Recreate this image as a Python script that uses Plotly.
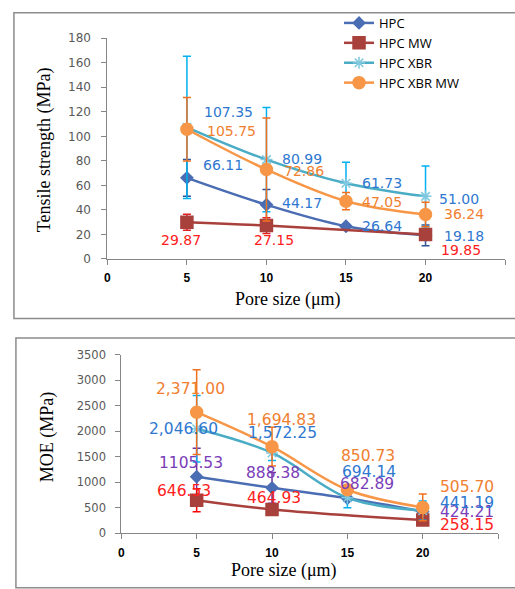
import plotly.graph_objects as go

pore = [5, 10, 15, 20]
series = ["HPC", "HPC MW", "HPC XBR", "HPC XBR MW"]

# Tensile strength (MPa)
ts_hpc = [66.11, 44.17, 26.64, 19.18]
ts_mw = [29.87, 27.15, None, 19.85]
ts_xbr = [107.35, 80.99, 61.73, 51.00]
ts_xbrmw = [105.75, 72.86, 47.05, 36.24]
ts_err_hpc = [15, 12.4, 2, 8.5]
ts_err_mw = [6.5, 6.4, 0, 3]
ts_err_xbr = [58, 42.6, 17, 24.7]
ts_err_xbrmw = [26, 42, 7, 10]

# MOE (MPa)
moe_hpc = [1105.53, 888.38, 682.89, 424.21]
moe_mw = [646.53, 464.93, None, 258.15]
moe_xbr = [2046.60, 1572.25, 694.14, 441.19]
moe_xbrmw = [2371.00, 1694.83, 850.73, 505.70]
moe_err_hpc = [560, 300, 40, 30]
moe_err_mw = [226, 40, 0, 20]
moe_err_xbr = [650, 150, 195, 190]
moe_err_xbrmw = [830, 380, 80, 260]

ts_labels = ["66.11 44.17 26.64 19.18", "29.87 27.15 - 19.85",
             "107.35 80.99 61.73 51.00", "105.75 72.86 47.05 36.24"]
moe_labels = ["1105.53 888.38 682.89 424.21", "646.53 464.93 - 258.15",
              "2,046.60 1,572.25 694.14 441.19", "2,371.00 1,694.83 850.73 505.70"]

W, H = 515, 589
line_cols = ["#4A6DB3", "#A8403C", "#4BACC6", "#F79646"]
symbols = ["diamond", "square", "asterisk-open", "circle"]
msizes = [9, 12, 10, 12]
mk_cols = ["#4A6DB3", "#A8403C", "#7FC8E0", "#F79646"]
ts_err_cols = ["#2F5597", "#E02020", "#00B0F0", "#F07020"]
moe_err_cols = ["#7030A0", "#FF0000", "#00B0F0", "#F07020"]
ts_lab_cols = ["#2E78D0", "#FF2020", "#2E78D0", "#F08030"]
moe_lab_cols = ["#7A3DB8", "#FF2020", "#2E78D0", "#F08030"]

# label pixel offsets (xshift, yshift, anchor)
ts_off = [
    [(14, 13, "left"), (14, 2, "left"), (14, 0, "left"), (16, -1, "left")],
    [(-6, -18, "center"), (-14, -14, "left"), None, (13, -15, "left")],
    [(15, 15, "left"), (14, 1, "left"), (14, 0, "left"), (11, -3, "left")],
    [(18, -2, "left"), (16, -1, "left"), (14, -1, "left"), (16, 0, "left")],
]
moe_off = [
    [(-6, 14, "center"), (1, 15, "center"), (20, 14, "center"), (15, 0, "left")],
    [(-13, 9, "center"), (2, 11, "center"), None, (15, -4.5, "left")],
    [(-13, 0, "center"), (10, 20, "center"), (22, 26, "center"), (15, 8, "left")],
    [(-6, 23, "center"), (9, 27, "center"), (21, 34, "center"), (15, 20, "left")],
]

fig = go.Figure()

ts_vals = [ts_hpc, ts_mw, ts_xbr, ts_xbrmw]
ts_errs = [ts_err_hpc, ts_err_mw, ts_err_xbr, ts_err_xbrmw]
moe_vals = [moe_hpc, moe_mw, moe_xbr, moe_xbrmw]
moe_errs = [moe_err_hpc, moe_err_mw, moe_err_xbr, moe_err_xbrmw]

for i, name in enumerate(series):
    fig.add_trace(go.Scatter(
        x=pore, y=ts_vals[i], name=name, mode="lines+markers",
        connectgaps=True, line=dict(color=line_cols[i], width=2.5, shape="spline"),
        marker=dict(symbol=symbols[i], size=msizes[i], color=mk_cols[i],
                    line=dict(color=mk_cols[i], width=1.5)),
        error_y=dict(type="data", array=ts_errs[i], color=ts_err_cols[i],
                     thickness=1.5, width=4),
        xaxis="x", yaxis="y", showlegend=True))
for i, name in enumerate(series):
    fig.add_trace(go.Scatter(
        x=pore, y=moe_vals[i], name=name, mode="lines+markers",
        connectgaps=True, line=dict(color=line_cols[i], width=2.5, shape="spline"),
        marker=dict(symbol=symbols[i], size=msizes[i], color=mk_cols[i],
                    line=dict(color=mk_cols[i], width=1.5)),
        error_y=dict(type="data", array=moe_errs[i], color=moe_err_cols[i],
                     thickness=1.5, width=4),
        xaxis="x2", yaxis="y2", showlegend=False))

anns = []
for i in range(4):
    labs = ts_labels[i].split(" ")
    for j, x in enumerate(pore):
        v = ts_vals[i][j]
        if v is None or ts_off[i][j] is None:
            continue
        dx, dy, anc = ts_off[i][j]
        anns.append(dict(x=x, y=v, xref="x", yref="y", text=labs[j], showarrow=False,
                         xanchor=anc, yanchor="middle", xshift=dx, yshift=dy,
                         font=dict(family="DejaVu Sans", size=14, color=ts_lab_cols[i])))
    labs = moe_labels[i].split(" ")
    for j, x in enumerate(pore):
        v = moe_vals[i][j]
        if v is None or moe_off[i][j] is None:
            continue
        dx, dy, anc = moe_off[i][j]
        anns.append(dict(x=x, y=v, xref="x2", yref="y2", text=labs[j], showarrow=False,
                         xanchor=anc, yanchor="middle", xshift=dx, yshift=dy,
                         font=dict(family="DejaVu Sans", size=15.5, color=moe_lab_cols[i])))

def px(xp, yp):
    return xp / W, 1 - yp / H

serif = "Liberation Serif"
for txt, (xp, yp), ang in [("Tensile strength (MPa)", (42, 146), -90),
                           ("MOE (MPa)", (45, 440), -90),
                           ("Pore size (μm)", (287, 300), 0),
                           ("Pore size (μm)", (283, 577), 0)]:
    xx, yy = px(xp, yp)
    anns.append(dict(x=xx, y=yy, xref="paper", yref="paper", text=txt, showarrow=False,
                     xanchor="center", yanchor="middle", textangle=ang,
                     font=dict(family=serif, size=18, color="black")))

axis_gray = "#868686"
xcommon = dict(range=[0, 25], tickvals=[0, 5, 10, 15, 20, 25],
               ticktext=["0", "5", "10", "15", "20", ""],
               showgrid=False, zeroline=False, showline=True, linecolor=axis_gray,
               linewidth=1, ticks="outside", ticklen=5, tickcolor=axis_gray,
               tickfont=dict(family="Liberation Sans", size=12, color="black", weight="bold"),
               ticklabelstandoff=3)

fig.update_layout(
    width=W, height=H, margin=dict(l=0, r=0, t=0, b=0),
    paper_bgcolor="white", plot_bgcolor="white",
    xaxis=dict(domain=[105 / W, 505 / W], anchor="y", **xcommon),
    yaxis=dict(domain=[1 - 258 / H, 1 - 32 / H], range=[0, 180], dtick=20, anchor="x",
               showgrid=False, zeroline=False, showline=True, linecolor=axis_gray,
               ticks="outside", ticklen=5, tickcolor=axis_gray, ticklabelstandoff=8,
               tickfont=dict(family="DejaVu Sans", size=12, color="#595959")),
    xaxis2=dict(domain=[119 / W, 498 / W], anchor="y2", **xcommon),
    yaxis2=dict(domain=[1 - 539 / H, 1 - 356 / H], range=[0, 3500], dtick=500, anchor="x2",
                showgrid=False, zeroline=False, showline=True, linecolor=axis_gray,
                ticks="outside", ticklen=5, tickcolor=axis_gray, ticklabelstandoff=7,
                tickfont=dict(family="DejaVu Sans", size=11.5, color="#595959")),
    legend=dict(x=338 / W, y=1 - 1 / H, xanchor="left", yanchor="top",
                bgcolor="rgba(0,0,0,0)", tracegroupgap=0, itemwidth=30,
                font=dict(family="Open Sans", size=13, color="black")),
    annotations=anns,
    shapes=[
        dict(type="rect", xref="paper", yref="paper", x0=11 / W, x1=1.01,
             y0=1 - 319 / H, y1=1 - 6 / H, line=dict(color="#8C8C8C", width=1.5)),
        dict(type="rect", xref="paper", yref="paper", x0=13 / W, x1=1.01,
             y0=-0.01, y1=1 - 339 / H, line=dict(color="#8C8C8C", width=1.5)),
    ],
)

fig.write_html("out.html")
